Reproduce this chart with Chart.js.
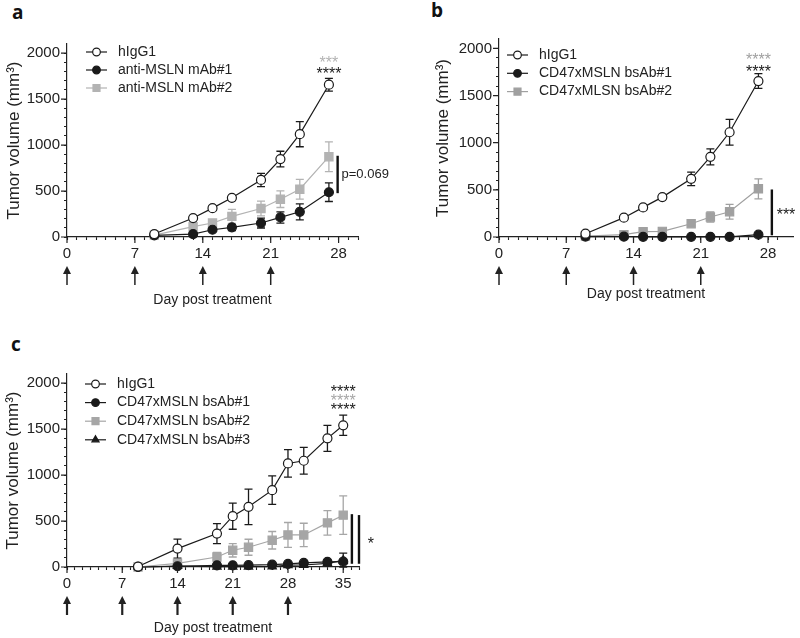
<!DOCTYPE html>
<html>
<head>
<meta charset="utf-8">
<script src="https://cdn.jsdelivr.net/npm/chart.js@4.4.1/dist/chart.umd.min.js"></script>
<style>
  body { margin: 0; background: #fff; width: 800px; height: 638px; position: relative; overflow: hidden; }
  .panel { position: absolute; }
  .tag { position: absolute; font-family: "Open Sans", sans-serif; font-weight: bold; font-size: 19px; color: #111; line-height: 1; }
</style>
</head>
<body>
<div class="tag" style="left:12px;top:3px">a</div>
<div class="tag" style="left:431px;top:1px">b</div>
<div class="tag" style="left:11px;top:335px">c</div>
<div class="panel" style="left:0;top:0"><canvas id="chartA" width="400" height="320"></canvas></div>
<div class="panel" style="left:400px;top:0"><canvas id="chartB" width="400" height="320"></canvas></div>
<div class="panel" style="left:0;top:330px"><canvas id="chartC" width="400" height="308"></canvas></div>
<script>
// panel a / b: days measured
const daysAB = [9, 13, 15, 17, 20, 22, 24, 27];
const aHigG1 = [32, 206, 314, 426, 621, 848, 1119, 1657];
const aHigG1Err = [10, 12, 25, 15, 72, 85, 137, 70];
const aMab1 = [18, 32, 79, 105, 152, 213, 274, 487];
const aMab1Err = [5, 8, 15, 36, 54, 61, 87, 101];
const aMab2 = [20, 112, 152, 224, 310, 411, 520, 874];
const aMab2Err = [5, 15, 20, 76, 80, 90, 108, 162];

const bHigG1 = [35, 205, 314, 423, 617, 850, 1111, 1654];
const bHigG1Err = [10, 10, 25, 15, 72, 85, 137, 78];
const bBs1 = [5, 3, 2, 2, 2, 2, 2, 25];
const bBs1Err = [0, 0, 0, 0, 0, 0, 0, 5];
const bBs2 = [10, 25, 56, 60, 141, 212, 268, 511];
const bBs2Err = [3, 8, 12, 10, 15, 53, 78, 106];

// panel c
const daysC = [9, 14, 19, 21, 23, 26, 28, 30, 33, 35];
const cHigG1 = [5, 200, 364, 553, 655, 836, 1127, 1156, 1400, 1542];
const cHigG1Err = [0, 104, 109, 142, 193, 155, 150, 145, 142, 110];
const cBs1 = [0, 8, 18, 18, 20, 25, 33, 44, 55, 58];
const cBs1Err = [0, 0, 5, 5, 5, 10, 15, 15, 20, 25];
const cBs2 = [0, 40, 109, 182, 215, 291, 349, 349, 480, 564];
const cBs2Err = [0, 15, 50, 73, 87, 95, 135, 127, 133, 210];
const cBs3 = [0, 10, 3, 3, 3, 5, 20, 22, 40, 72];
const cBs3Err = [0, 5, 0, 0, 0, 0, 10, 10, 20, 80];

const treatDaysAB = [0, 7, 14, 21];
const treatDaysC = [0, 7, 14, 21, 28];

const BLACK = '#1a1a1a';
const GREY_A = '#b3b3b3';
const GREY_B = '#a0a0a0';
const GREY_C = '#a6a6a6';

Chart.defaults.font.family = '"Liberation Sans", Arial, sans-serif';
Chart.defaults.color = '#222';

function series(label, days, vals, errs, color, style, fill, radius) {
  return {
    label: label,
    data: days.map((d, i) => ({ x: d, y: vals[i] })),
    errors: errs,
    borderColor: color,
    backgroundColor: fill,
    pointBackgroundColor: fill,
    pointBorderColor: color,
    pointStyle: style,
    pointRadius: radius,
    pointBorderWidth: 1.2,
    borderWidth: 1.2,
    tension: 0,
    clip: false,
  };
}

function marker(ctx, style, x, y, r) {
  ctx.beginPath();
  if (style === 'rect') {
    const s = r * Math.SQRT1_2;
    ctx.rect(x - s, y - s, 2 * s, 2 * s);
  } else if (style === 'triangle') {
    ctx.moveTo(x, y - r);
    ctx.lineTo(x + r * 0.866, y + r * 0.5);
    ctx.lineTo(x - r * 0.866, y + r * 0.5);
    ctx.closePath();
  } else {
    ctx.arc(x, y, r, 0, Math.PI * 2);
  }
  ctx.fill();
  ctx.stroke();
}

const errorBars = {
  id: 'errorBars',
  beforeDatasetsDraw(chart) {
    const { ctx } = chart;
    const y = chart.scales.y;
    chart.data.datasets.forEach((ds, i) => {
      const meta = chart.getDatasetMeta(i);
      ctx.save();
      ctx.strokeStyle = ds.borderColor;
      ctx.lineWidth = 1.3;
      meta.data.forEach((pt, j) => {
        const e = ds.errors[j];
        if (!e) return;
        const v = ds.data[j].y;
        const top = y.getPixelForValue(v + e);
        const bot = y.getPixelForValue(Math.max(0, v - e));
        ctx.beginPath();
        ctx.moveTo(pt.x, top); ctx.lineTo(pt.x, bot);
        ctx.moveTo(pt.x - 4, top); ctx.lineTo(pt.x + 4, top);
        ctx.moveTo(pt.x - 4, bot); ctx.lineTo(pt.x + 4, bot);
        ctx.stroke();
      });
      ctx.restore();
    });
  }
};

const decor = {
  id: 'decor',
  afterDraw(chart, args, o) {
    const { ctx, chartArea: ca } = chart;
    const x = chart.scales.x, y = chart.scales.y;
    ctx.save();

    // longer major ticks
    ctx.strokeStyle = '#222';
    ctx.lineWidth = 1.2;
    ctx.beginPath();
    x.ticks.forEach(t => {
      if (t.value % 7 === 0) {
        const px = x.getPixelForValue(t.value);
        ctx.moveTo(px, ca.bottom); ctx.lineTo(px, ca.bottom + 6);
      }
    });
    y.ticks.forEach(t => {
      if (t.value % 500 === 0) {
        const py = y.getPixelForValue(t.value);
        ctx.moveTo(ca.left, py); ctx.lineTo(ca.left - 6, py);
      }
    });
    ctx.stroke();

    // treatment arrows
    ctx.strokeStyle = '#222';
    ctx.fillStyle = '#222';
    ctx.lineWidth = o.arrowWidth;
    o.arrows.forEach(d => {
      const px = x.getPixelForValue(d);
      const t = ca.bottom + 29, b = ca.bottom + 48;
      ctx.beginPath();
      ctx.moveTo(px, t + 6); ctx.lineTo(px, b);
      ctx.stroke();
      ctx.beginPath();
      ctx.moveTo(px, t); ctx.lineTo(px + 4, t + 8); ctx.lineTo(px - 4, t + 8);
      ctx.closePath();
      ctx.fill();
    });

    // legend
    ctx.font = '14px "Liberation Sans", Arial, sans-serif';
    ctx.textBaseline = 'middle';
    ctx.textAlign = 'left';
    chart.data.datasets.forEach((ds, i) => {
      const ly = o.legend.y + i * o.legend.gap;
      ctx.strokeStyle = ds.borderColor;
      ctx.lineWidth = 1.2;
      ctx.beginPath();
      ctx.moveTo(o.legend.x, ly); ctx.lineTo(o.legend.x + 21, ly);
      ctx.stroke();
      ctx.fillStyle = ds.pointBackgroundColor;
      marker(ctx, ds.pointStyle, o.legend.x + 10.5, ly, ds.pointRadius * 0.85);
      ctx.fillStyle = '#222';
      ctx.fillText(ds.label, o.legend.x + 32, ly);
    });

    // significance bars
    ctx.strokeStyle = '#111';
    ctx.lineWidth = 2.4;
    o.bars.forEach(b => {
      const px = x.getPixelForValue(b.x);
      ctx.beginPath();
      ctx.moveTo(px, y.getPixelForValue(b.from));
      ctx.lineTo(px, y.getPixelForValue(b.to));
      ctx.stroke();
    });

    // star / p-value labels
    o.notes.forEach(n => {
      ctx.font = n.size + 'px "Liberation Sans", Arial, sans-serif';
      ctx.fillStyle = n.color;
      ctx.textAlign = n.align;
      ctx.textBaseline = n.star ? 'alphabetic' : 'middle';
      const py = y.getPixelForValue(n.y) + (n.star ? n.size * 0.58 : 0);
      ctx.fillText(n.text, x.getPixelForValue(n.x), py);
    });

    ctx.restore();
  }
};

function makeChart(id, p) {
  return new Chart(document.getElementById(id), {
    type: 'line',
    data: { datasets: p.datasets },
    plugins: [errorBars, decor],
    options: {
      responsive: false,
      animation: false,
      layout: { padding: { top: p.top, right: p.right, left: 0, bottom: 0 } },
      plugins: {
        legend: { display: false },
        tooltip: { enabled: false },
        decor: p.decor,
      },
      scales: {
        x: {
          type: 'linear',
          min: 0,
          max: p.xMax,
          afterFit: s => { s.height = p.xHeight; },
          afterBuildTicks: s => { s.ticks = s.ticks.filter(t => Number.isInteger(t.value)); },
          border: { display: true, color: '#222', width: 1.2 },
          grid: { drawOnChartArea: false, drawTicks: true, tickLength: 3, tickColor: '#222', tickWidth: 1.1 },
          ticks: {
            stepSize: 1,
            autoSkip: false,
            maxRotation: 0,
            padding: 5,
            font: { size: 15 },
            callback: v => (v % 7 === 0 ? String(v) : ''),
          },
          title: {
            display: true,
            text: 'Day post treatment',
            font: { size: 14 },
            padding: { top: 0, bottom: p.xTitlePad },
          },
        },
        y: {
          min: 0,
          max: 2100,
          afterFit: s => { s.width = p.yWidth; },
          afterBuildTicks: s => { s.ticks = s.ticks.filter(t => t.value <= 2000 && t.value % 100 === 0); },
          border: { display: true, color: '#222', width: 1.2 },
          grid: { drawOnChartArea: false, drawTicks: true, tickLength: 3, tickColor: '#222', tickWidth: 1.1 },
          ticks: {
            stepSize: 100,
            autoSkip: false,
            padding: 4,
            font: { size: 15 },
            callback: v => (v % 500 === 0 ? String(v) : ''),
          },
          title: {
            display: true,
            text: 'Tumor volume (mm³)',
            font: { size: 17 },
            padding: { top: p.yTitlePad, bottom: 0 },
          },
        },
      },
    },
  });
}

makeChart('chartA', {
  datasets: [
    series('hIgG1', daysAB, aHigG1, aHigG1Err, BLACK, 'circle', '#fff', 4.5),
    series('anti-MSLN mAb#1', daysAB, aMab1, aMab1Err, BLACK, 'circle', BLACK, 4.5),
    series('anti-MSLN mAb#2', daysAB, aMab2, aMab2Err, GREY_A, 'rect', GREY_A, 5.8),
  ],
  top: 44, right: 42, xMax: 30, xHeight: 83, yWidth: 67, xTitlePad: 11, yTitlePad: 4,
  decor: {
    arrows: treatDaysAB, arrowWidth: 1.5,
    legend: { x: 86, y: 52, gap: 18 },
    bars: [{ x: 27.9, from: 884, to: 477 }],
    notes: [
      { text: '***', x: 27, y: 1935, color: GREY_A, size: 16, align: 'center', star: true },
      { text: '****', x: 27, y: 1820, color: BLACK, size: 16, align: 'center', star: true },
      { text: 'p=0.069', x: 28.3, y: 686, color: '#222', size: 13, align: 'left', star: false },
    ],
  },
});

makeChart('chartB', {
  datasets: [
    series('hIgG1', daysAB, bHigG1, bHigG1Err, BLACK, 'circle', '#fff', 4.5),
    series('CD47xMSLN bsAb#1', daysAB, bBs1, bBs1Err, BLACK, 'circle', BLACK, 4.5),
    series('CD47xMLSN bsAb#2', daysAB, bBs2, bBs2Err, GREY_B, 'rect', GREY_B, 5.8),
  ],
  top: 39, right: 0, xMax: 30.6, xHeight: 83, yWidth: 99, xTitlePad: 17, yTitlePad: 33,
  decor: {
    arrows: treatDaysAB, arrowWidth: 1.5,
    legend: { x: 107, y: 55, gap: 18.3 },
    bars: [{ x: 28.4, from: 504, to: 18 }],
    notes: [
      { text: '****', x: 27, y: 1923, color: GREY_B, size: 16, align: 'center', star: true },
      { text: '****', x: 27, y: 1796, color: BLACK, size: 16, align: 'center', star: true },
      { text: '***', x: 28.9, y: 283, color: BLACK, size: 16, align: 'left', star: true },
    ],
  },
});

makeChart('chartC', {
  datasets: [
    series('hIgG1', daysC, cHigG1, cHigG1Err, BLACK, 'circle', '#fff', 4.5),
    series('CD47xMSLN bsAb#1', daysC, cBs1, cBs1Err, BLACK, 'circle', BLACK, 4.5),
    series('CD47xMSLN bsAb#2', daysC, cBs2, cBs2Err, GREY_C, 'rect', GREY_C, 5.8),
    series('CD47xMSLN bsAb#3', daysC, cBs3, cBs3Err, BLACK, 'triangle', BLACK, 4.8),
  ],
  top: 44, right: 41, xMax: 37, xHeight: 71, yWidth: 67, xTitlePad: 1, yTitlePad: 3,
  decor: {
    arrows: treatDaysC, arrowWidth: 2.2,
    legend: { x: 85, y: 54, gap: 18.6 },
    bars: [{ x: 36.1, from: 575, to: 35 }, { x: 37, from: 565, to: 35 }],
    notes: [
      { text: '****', x: 35, y: 1950, color: BLACK, size: 16, align: 'center', star: true },
      { text: '****', x: 35, y: 1855, color: GREY_C, size: 16, align: 'center', star: true },
      { text: '****', x: 35, y: 1760, color: BLACK, size: 16, align: 'center', star: true },
      { text: '*', x: 38.1, y: 302, color: BLACK, size: 16, align: 'left', star: true },
    ],
  },
});
</script>
</body>
</html>
